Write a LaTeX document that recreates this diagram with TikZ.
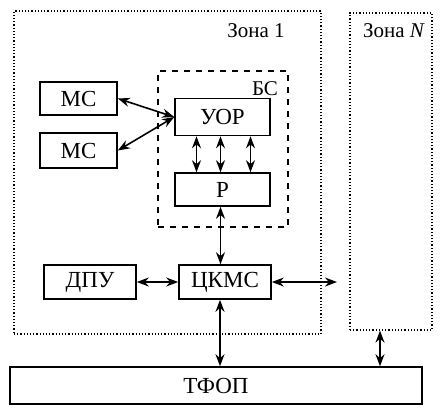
\documentclass[tikz,border=0pt]{standalone}
\usepackage{fontspec}
\setmainfont{Liberation Serif}
\usetikzlibrary{arrows.meta,calc}
\begin{document}
\begin{tikzpicture}[x=0.5pt,y=-0.5pt,
    font=\fontsize{10.5}{12}\selectfont,
    blk/.style={draw, line width=0.8pt, inner sep=0pt, align=center, font=\fontsize{11.5}{13}\selectfont},
    zone/.style={draw, line width=0.6pt, densely dotted, inner sep=0pt},
    link/.style={{Stealth[length=6pt,width=4.5pt]}-{Stealth[length=6pt,width=4.5pt]}, line width=0.8pt}]
    \useasboundingbox (0,0) rectangle (442,414);

    % zones
    \node[zone, minimum width=153.5pt, minimum height=161.5pt] (zone1) at (167.5,172.5) {};
    \node[zone, minimum width=41pt, minimum height=158.5pt] (zoneN) at (391,171.5) {};
    \node (zone1lbl) at (256,31) {Зона 1};
    \node (zoneNlbl) at (394,31) {Зона \textit{N}};

    % base station
    \node[draw, dashed, line width=0.8pt, minimum width=65pt, minimum height=78pt, inner sep=0pt] (bs) at (223,149) {};
    \node (bslbl) at (265,89) {БС};

    \node[blk, minimum width=47.5pt, minimum height=18.5pt] (uor) at (222.5,117) {УОР};
    \node[blk, minimum width=47.5pt, minimum height=16.5pt] (r) at (222.5,189.5) {Р};
    \node[blk, minimum width=38.5pt, minimum height=16.5pt] (mc1) at (78.5,98.5) {МС};
    \node[blk, minimum width=38.5pt, minimum height=17.5pt] (mc2) at (78.5,150.5) {МС};
    \node[blk, minimum width=46pt, minimum height=17pt] (dpu) at (90,282) {ДПУ};
    \node[blk, minimum width=46pt, minimum height=17pt] (ckms) at (225,282) {ЦКМС};
    \node[blk, minimum width=206pt, minimum height=18.5pt] (tfop) at (216,385.5) {ТФОП};
    \coordinate (toN) at (337,282);

    \draw[link] (mc1.east) -- (uor.west);
    \draw[link] (uor.west) -- (mc2.east);
    \foreach \dx in {-26,-2,28}
      \draw[link] ($(uor.south)+(\dx,0)$) -- ($(r.north)+(\dx,0)$);
    \draw[link] ($(r.south)+(-2,0)$) -- ($(r.south |- ckms.north)+(-2,0)$);
    \draw[link] (dpu.east) -- (ckms.west);
    \draw[link] (ckms.east) -- (toN);
    \draw[link] ($(ckms.south)+(-5,0)$) -- ($(ckms.south |- tfop.north)+(-5,0)$);
    \draw[link] ($(zoneN.south)+(-11,0)$) -- ($(zoneN.south |- tfop.north)+(-11,0)$);
\end{tikzpicture}
\end{document}
